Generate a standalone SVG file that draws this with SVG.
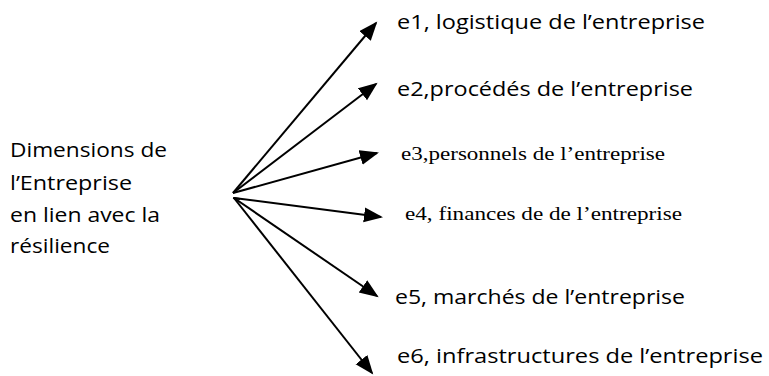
<svg xmlns="http://www.w3.org/2000/svg" width="769" height="376" viewBox="0 0 769 376">
<style>
.s{font-family:"Open Sans","Liberation Sans",Arial,sans-serif;font-size:20.5px;fill:#000}
.r{font-family:"Liberation Serif","Times New Roman",serif;font-size:19px;fill:#000}
.c{stroke:#000;stroke-width:2;fill:none;marker-end:url(#ah)}
</style>
<defs>
<marker id="ah" markerUnits="userSpaceOnUse" markerWidth="21" markerHeight="17" refX="17" refY="7.5" orient="auto">
<path d="M0,0 L19,7.5 L0,15 z" fill="#000"/>
</marker>
</defs>
<rect width="769" height="376" fill="#fff"/>
<g id="source">
<text class="s" x="10" y="157" textLength="157" lengthAdjust="spacingAndGlyphs">Dimensions de</text>
<text class="s" x="10" y="190" textLength="122" lengthAdjust="spacingAndGlyphs">l’Entreprise</text>
<text class="s" x="10" y="222" textLength="150" lengthAdjust="spacingAndGlyphs">en lien avec la</text>
<text class="s" x="10" y="253" textLength="100" lengthAdjust="spacingAndGlyphs">résilience</text>
</g>
<g id="connectors">
<line class="c" x1="233" y1="193" x2="376" y2="23"/>
<line class="c" x1="233" y1="193" x2="376" y2="84"/>
<line class="c" x1="233" y1="193" x2="377" y2="153"/>
<line class="c" x1="234" y1="198" x2="381" y2="217"/>
<line class="c" x1="234" y1="198" x2="377" y2="296"/>
<line class="c" x1="234" y1="198" x2="372" y2="373"/>
<line x1="233" y1="198" x2="240" y2="199" stroke="#000" stroke-width="2"/>
</g>
<g id="e1"><text class="s" x="397" y="29" textLength="308" lengthAdjust="spacingAndGlyphs">e1, logistique de l’entreprise</text></g>
<g id="e2"><text class="s" x="397" y="96" textLength="296" lengthAdjust="spacingAndGlyphs">e2,procédés de l’entreprise</text></g>
<g id="e3"><text class="r" x="401" y="160" textLength="264" lengthAdjust="spacingAndGlyphs">e3,personnels de l’entreprise</text></g>
<g id="e4"><text class="r" x="405" y="220" textLength="277" lengthAdjust="spacingAndGlyphs">e4, finances de de l’entreprise</text></g>
<g id="e5"><text class="s" x="395" y="304" textLength="290" lengthAdjust="spacingAndGlyphs">e5, marchés de l’entreprise</text></g>
<g id="e6"><text class="s" x="397" y="363" textLength="366" lengthAdjust="spacingAndGlyphs">e6, infrastructures de l’entreprise</text></g>
</svg>
